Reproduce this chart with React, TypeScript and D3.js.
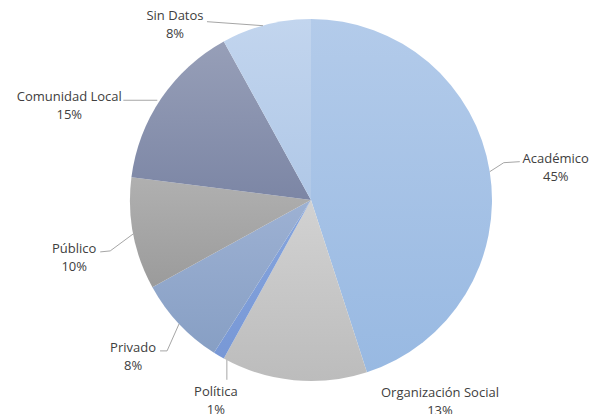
import React from 'react';
import * as d3 from 'd3';

// datos
const categories = ['Académico', 'Organización Social', 'Política', 'Privado', 'Público', 'Comunidad Local', 'Sin Datos'];
const values = [45, 13, 1, 8, 10, 15, 8];
const colorsTop = ['#b3cbea', '#d2d2d2', '#86a5dd', '#9db1d3', '#b0b0b0', '#979fb8', '#c2d5ee'];
const colorsBottom = ['#98b9e2', '#bcbcbc', '#7898d6', '#879fc4', '#9b9b9b', '#7c86a5', '#b0c8e7'];

// posición de etiquetas relativa al punto medio del borde de cada porción
const labelOffsets: [number, number][] = [[66, -9], [146, 17], [-3, 40], [-46, 28], [-59, 19], [-92, 3], [-91, -5]];
const leaderPaths: [number, number][][] = [
  [[0, 0], [14, -9], [30, -10]],
  [],
  [[8, 4], [8, 24]],
  [[0, 0], [-12, 27], [-19, 27]],
  [[0, 0], [-23, 17], [-33, 18]],
  [[-4, 2], [-38, 2]],
  [[-3, 1], [-59, -3]],
];

const W = 599;
const H = 414;
const cx = 311;
const cy = 200;
const R = 181;

const App: React.FC = () => {
  const data = categories.map((c, i) => ({ name: c, value: values[i], i }));
  const pie = d3.pie<typeof data[0]>().value(d => d.value).sort(null).startAngle(0).endAngle(2 * Math.PI);
  const arcs = pie(data);
  const arc = d3.arc<d3.PieArcDatum<typeof data[0]>>().innerRadius(0).outerRadius(R);
  const line = d3.line();

  return (
    <svg width={W} height={H} style={{ position: 'absolute', left: 0, top: 0, background: '#fff' }}>
      <defs>
        {arcs.map((a, i) => (
          <linearGradient key={i} id={`g${i}`} x1="0" y1="0" x2="0" y2="1">
            <stop offset="0%" stopColor={colorsTop[i]} />
            <stop offset="100%" stopColor={colorsBottom[i]} />
          </linearGradient>
        ))}
      </defs>
      <g transform={`translate(${cx},${cy})`}>
        {arcs.map((a, i) => (
          <path key={i} d={arc(a) || ''} fill={`url(#g${i})`} />
        ))}
      </g>
      {arcs.map((a, i) => {
        const mid = (a.startAngle + a.endAngle) / 2;
        const px = cx + R * Math.sin(mid);
        const py = cy - R * Math.cos(mid);
        const [dx, dy] = labelOffsets[i];
        const pts = leaderPaths[i].map(([x, y]) => [px + x, py + y] as [number, number]);
        return (
          <g key={i}>
            {pts.length > 1 && (
              <path d={line(pts) || ''} fill="none" stroke="#a6a6a6" strokeWidth={1} />
            )}
            <text
              x={px + dx}
              y={py + dy}
              textAnchor="middle"
              fontFamily="'Open Sans', sans-serif"
              fontSize={13}
              fill="#404040"
            >
              <tspan x={px + dx}>{a.data.name}</tspan>
              <tspan x={px + dx} dy={18}>{`${a.data.value}%`}</tspan>
            </text>
          </g>
        );
      })}
    </svg>
  );
};

export default App;
